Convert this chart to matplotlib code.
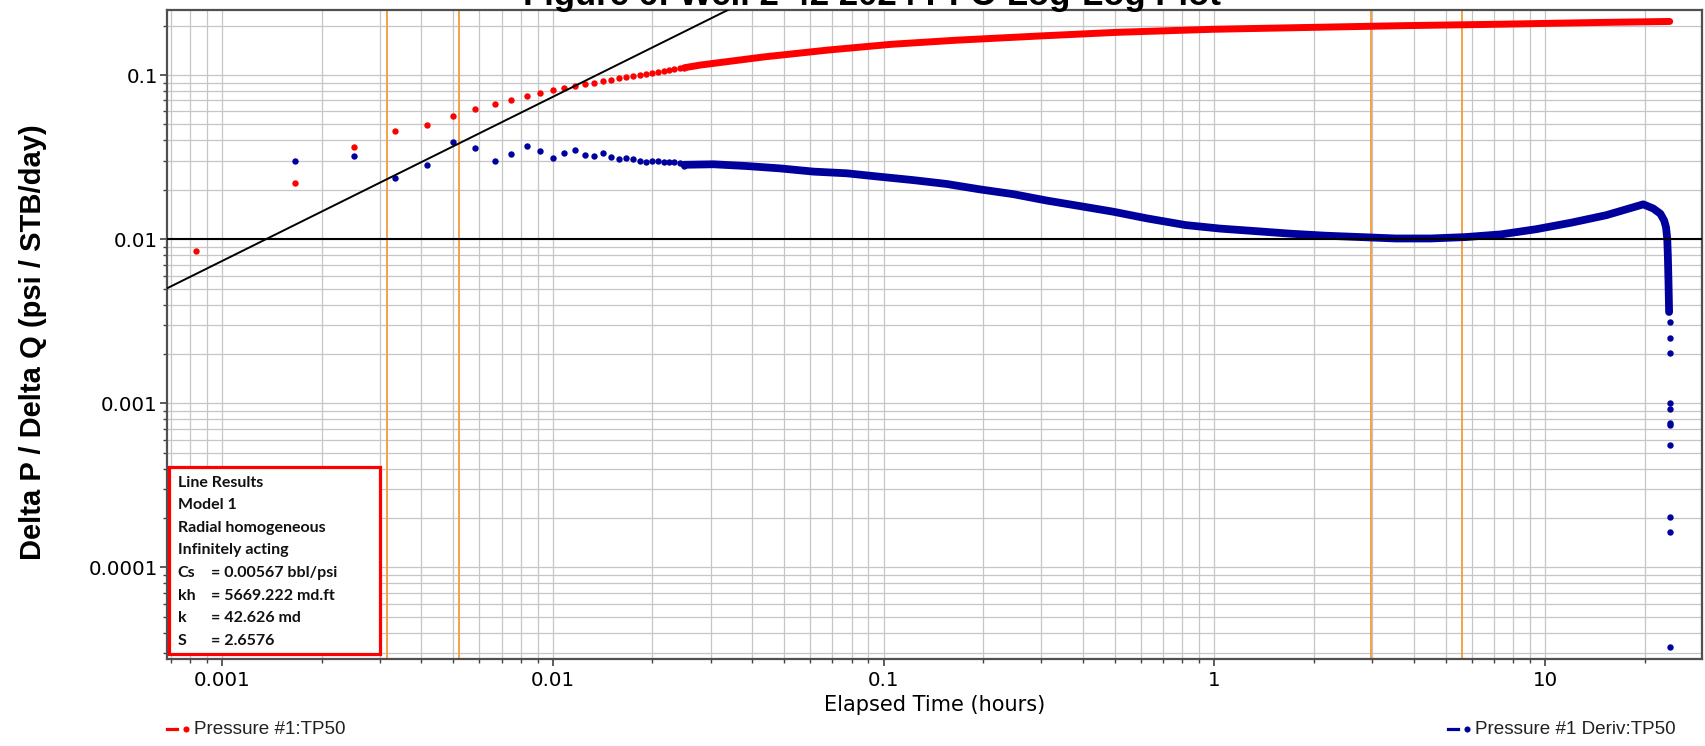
import matplotlib
matplotlib.use("Agg")
import numpy as np
import matplotlib.pyplot as plt
from matplotlib.lines import Line2D
from matplotlib.patches import Rectangle
from matplotlib.ticker import FixedLocator, FixedFormatter, LogLocator, NullFormatter

# ---------------- data ----------------
title_text = "Figure 6: Well 2-42 2024 PFO Log-Log Plot"
x_label = "Elapsed Time (hours)"
y_label = "Delta P / Delta Q (psi / STB/day)"

x_ticks = [0.001, 0.01, 0.1, 1, 10]
x_tick_labels = ["0.001", "0.01", "0.1", "1", "10"]
y_ticks = [0.0001, 0.001, 0.01, 0.1]
y_tick_labels = ["0.0001", "0.001", "0.01", "0.1"]

# early, individually visible samples (3-second steps)
early_t = [0.000833, 0.001667, 0.0025, 0.003333, 0.004167, 0.005, 0.005833,
           0.006667, 0.0075, 0.008333, 0.009167, 0.01, 0.010833, 0.011667,
           0.0125, 0.013333, 0.014167, 0.015, 0.015833, 0.016667, 0.0175,
           0.018333, 0.019167, 0.02, 0.020833, 0.021667, 0.0225, 0.023333,
           0.024167, 0.025]
early_pressure = [0.00853, 0.0221, 0.0364, 0.0454, 0.0496, 0.0565, 0.0624,
                  0.0669, 0.0702, 0.0742, 0.0774, 0.0810, 0.0833, 0.0858,
                  0.0881, 0.0894, 0.0919, 0.0937, 0.0954, 0.0972, 0.0986,
                  0.1000, 0.1014, 0.1033, 0.1043, 0.1058, 0.1073, 0.1083,
                  0.1098, 0.1108]
early_deriv_t = early_t[1:]
early_deriv = [0.0299, 0.0321, 0.0237, 0.0282, 0.0389, 0.0361, 0.0299, 0.0330,
               0.0371, 0.0346, 0.0312, 0.0336, 0.0349, 0.0326, 0.0321, 0.0335,
               0.0317, 0.0309, 0.0312, 0.0308, 0.0298, 0.0297, 0.0298, 0.0301,
               0.0295, 0.0297, 0.0294, 0.0290, 0.0281]

# dense part (samples merge into a band)
dense_pressure_t = [0.025, 0.0279, 0.0436, 0.068, 0.106, 0.166, 0.297, 0.507,
                    0.99, 1.94, 3.78, 7.36, 14.4, 23.8]
dense_pressure = [0.1108, 0.115, 0.129, 0.142, 0.154, 0.163, 0.173, 0.182,
                  0.190, 0.195, 0.200, 0.204, 0.209, 0.212]

dense_deriv_t = [0.025, 0.0306, 0.0386, 0.0486, 0.0614, 0.0774, 0.0976, 0.123,
                 0.155, 0.196, 0.247, 0.311, 0.393, 0.495, 0.624, 0.816, 1.042,
                 1.33, 1.70, 2.17, 2.77, 3.53, 4.51, 5.75, 7.36, 9.39, 11.98,
                 15.3, 19.8, 21.2, 22.3, 22.9, 23.2, 23.4, 23.5, 23.6, 23.7]
dense_deriv = [0.0284, 0.0286, 0.0279, 0.0270, 0.0258, 0.0252, 0.0240, 0.0229,
               0.0217, 0.0201, 0.0188, 0.0172, 0.0159, 0.0147, 0.0134, 0.0122,
               0.0116, 0.0112, 0.0108, 0.0105, 0.0103, 0.0101, 0.0101, 0.0103,
               0.0107, 0.0115, 0.0126, 0.0140, 0.0163, 0.0154, 0.0143, 0.0130,
               0.0118, 0.0100, 0.0078, 0.0055, 0.0036]

# scattered final derivative samples
tail_deriv_t = [23.8, 23.8, 23.8, 23.8, 23.8, 23.8, 23.8, 23.8, 23.8, 23.8, 23.8]
tail_deriv = [0.00311, 0.00251, 0.00203, 0.000999, 0.000927, 0.000755,
              0.000733, 0.000556, 0.000204, 0.000164, 3.29e-5]

# analysis lines
unit_slope_t = [0.0005, 0.05]
unit_slope_v = [0.00368, 0.368]
radial_level = 0.01
marker_times = [0.00315, 0.00521, 2.98, 5.62]

results_labels = ["Line Results", "Model 1", "Radial homogeneous",
                  "Infinitely acting", "Cs", "kh", "k", "S"]
results_values = ["", "", "", "", "= 0.00567 bbl/psi", "= 5669.222 md.ft",
                  "= 42.626 md", "= 2.6576"]

legend_labels = ["Pressure #1:TP50", "Pressure #1 Deriv:TP50"]

# ---------------- style ----------------
RED = "#FF0000"
BLUE = "#00009C"
ORANGE = "#F39A3C"
W, H = 1705, 746

fig = plt.figure(figsize=(W / 100, H / 100), dpi=100)
ax_l, ax_r, ax_t, ax_b = 167, 1702, 10, 659
ax = fig.add_axes([ax_l / W, 1 - ax_b / H, (ax_r - ax_l) / W, (ax_b - ax_t) / H])

ax.set_xscale("log")
ax.set_yscale("log")
ax.set_xlim(6.82e-4, 29.8)
ax.set_ylim(2.77e-5, 0.249)

# grid
ax.set_axisbelow(True)
ax.xaxis.set_minor_locator(LogLocator(base=10, subs=np.arange(2, 10), numticks=30))
ax.yaxis.set_minor_locator(LogLocator(base=10, subs=np.arange(2, 10), numticks=30))
ax.xaxis.set_major_locator(FixedLocator(x_ticks))
ax.xaxis.set_major_formatter(FixedFormatter(x_tick_labels))
ax.yaxis.set_major_locator(FixedLocator(y_ticks))
ax.yaxis.set_major_formatter(FixedFormatter(y_tick_labels))
ax.xaxis.set_minor_formatter(NullFormatter())
ax.yaxis.set_minor_formatter(NullFormatter())
ax.grid(True, which="both", color="#c6c6c6", lw=0.9, zorder=0)

ax.tick_params(which="major", direction="out", length=5, width=1.2, color="#404040",
               labelsize=14.3, labelcolor="black")
ax.tick_params(which="minor", direction="out", length=3, width=1.0, color="#404040")
ax.tick_params(axis="x", which="major", pad=4)
ax.tick_params(axis="y", which="major", pad=1.5)
for lab in ax.get_xticklabels() + ax.get_yticklabels():
    lab.set_family("DejaVu Sans")
for s in ax.spines.values():
    s.set_color("#505050")
    s.set_linewidth(1.6)

# vertical markers
for t in marker_times:
    ax.axvline(t, color=ORANGE, lw=1.3, zorder=1)

# data
ax.plot(dense_pressure_t, dense_pressure, color=RED, lw=5, solid_capstyle="round",
        solid_joinstyle="round", zorder=3)
ax.plot(early_t, early_pressure, "o", color=RED, ms=4.6, mew=0, zorder=3)
ax.plot(dense_deriv_t, dense_deriv, color=BLUE, lw=5.6, solid_capstyle="round",
        solid_joinstyle="round", zorder=3)
ax.plot(early_deriv_t, early_deriv, "o", color=BLUE, ms=4.6, mew=0, zorder=3)
ax.plot(tail_deriv_t, tail_deriv, "o", color=BLUE, ms=4.6, mew=0, zorder=3)

# analysis lines
ax.axhline(radial_level, color="black", lw=1.5, zorder=4)
ax.plot(unit_slope_t, unit_slope_v, color="black", lw=1.4, zorder=4)

# results box
aw, ah = ax_r - ax_l, ax_b - ax_t
def axx(px):
    return (px - ax_l) / aw
def axy(py):
    return (ax_b - py) / ah

box = Rectangle((axx(169), axy(654)), axx(380) - axx(169), axy(467.3) - axy(654),
                transform=ax.transAxes, facecolor="white", edgecolor=RED, lw=2.3,
                zorder=10)
ax.add_patch(box)
line_y0, line_dy = 482.7, 22.57
for i, (lab, val) in enumerate(zip(results_labels, results_values)):
    y = line_y0 + i * line_dy
    ax.text(axx(177.7), axy(y), lab, transform=ax.transAxes, ha="left",
            va="center", fontsize=11.5, family="Lato", weight="bold",
            color="#111111", zorder=11)
    if val:
        ax.text(axx(211), axy(y), val, transform=ax.transAxes, ha="left",
                va="center", fontsize=11.5, family="Lato", weight="bold",
                color="#111111", zorder=11)

# labels
fig.text(872 / W, 1 - 5 / H, title_text, ha="center", va="baseline",
         fontsize=25, weight="bold", family="Liberation Sans")
fig.text(33 / W, 1 - 342 / H, y_label, rotation=90, ha="center", va="center",
         fontsize=21, weight="bold", family="Liberation Sans")
fig.text(935 / W, 1 - 705 / H, x_label, ha="center", va="center",
         fontsize=15, family="DejaVu Sans")

# bottom legend
def legend_item(x_dash0, x_dash1, x_dot, x_text, y, color, text):
    fy = 1 - y / H
    fig.add_artist(Line2D([x_dash0 / W, x_dash1 / W], [fy, fy], color=color,
                          lw=2.3, transform=fig.transFigure))
    fig.add_artist(Line2D([x_dot / W], [fy], marker="o", color=color, ms=4.4,
                          mew=0, linestyle="none", transform=fig.transFigure))
    fig.text(x_text / W, fy, text, ha="left", va="center", fontsize=13.6,
             family="Liberation Sans", color="#222222")

legend_item(167, 177, 186, 194, 729, RED, legend_labels[0])
legend_item(1448, 1458, 1467, 1475, 729, BLUE, legend_labels[1])

fig.savefig("out.png", dpi=100)
